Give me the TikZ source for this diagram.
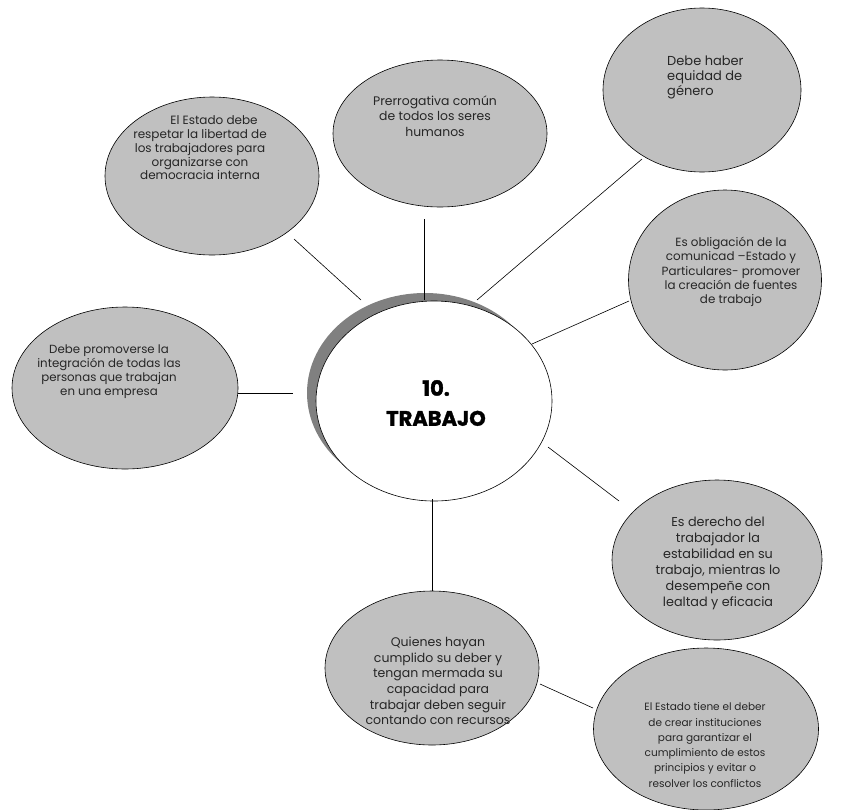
\documentclass[tikz,border=0pt]{standalone}
\usepackage{fontspec}
\setmainfont{Poppins}
\usetikzlibrary{shapes.geometric}
\definecolor{bubgray}{HTML}{C0C0C0}
\definecolor{shadowgray}{HTML}{808080}
\begin{document}
\begin{tikzpicture}[x=1pt,y=-1pt,
  bub/.style={ellipse,draw=black,line width=0.6pt,fill=bubgray,inner sep=0pt},
  txt/.style={align=center,inner sep=0pt,text=black!85},
  conn/.style={draw=black,line width=0.6pt}]
\useasboundingbox (0,0) rectangle (842,809);

% bubbles
\node[bub,minimum width=214pt,minimum height=158pt] (e1) at (212,176) {};
\node[bub,minimum width=214pt,minimum height=147pt] (e2) at (440,133.5) {};
\node[bub,minimum width=198pt,minimum height=164pt] (e3) at (702,90) {};
\node[bub,minimum width=193pt,minimum height=180pt] (e4) at (725,280) {};
\node[bub,minimum width=210pt,minimum height=160pt] (e5) at (717,560) {};
\node[bub,minimum width=214pt,minimum height=154pt] (e6) at (432,668) {};
\node[bub,minimum width=225pt,minimum height=162pt] (e7) at (706,729) {};
\node[bub,minimum width=226pt,minimum height=162pt] (e8) at (125,388) {};

% central ellipse with shadow
\node[ellipse,fill=shadowgray,inner sep=0pt,minimum width=236pt,minimum height=200pt] (sh) at (425,393) {};
\node[ellipse,draw=black,line width=0.6pt,fill=white,inner sep=0pt,minimum width=236pt,minimum height=200pt] (m) at (434,401) {};
\node[align=center,inner sep=0pt,font=\fontsize{21}{30}\selectfont\bfseries\addfontfeature{FakeBold=1.5}] (t0) at (436,403) {10.\\TRABAJO};

% texts
\node[txt,font=\fontsize{12}{13.7}\selectfont] (t1) at (200,148) {\hspace*{28pt}El Estado debe\\respetar la libertad de\\los trabajadores para\\organizarse con\\democracia interna};
\node[txt,font=\fontsize{12.4}{15.5}\selectfont] (t2) at (435,116) {Prerrogativa común\\de todos los seres\\humanos};
\node[txt,align=left,anchor=west,font=\fontsize{13}{15}\selectfont] (t3) at (667,77) {Debe haber\\ equidad de\\género};
\node[txt,font=\fontsize{11.9}{14.2}\selectfont] (t4) at (731,272) {Es obligación de la\\comunicad –Estado y\\Particulares- promover\\la creación de fuentes\\de trabajo};
\node[txt,font=\fontsize{12.8}{16}\selectfont] (t5) at (718,563) {Es derecho del\\trabajador la\\estabilidad en su\\trabajo, mientras lo\\desempeñe con\\lealtad y eficacia};
\node[txt,font=\fontsize{12.5}{15.6}\selectfont] (t6) at (438,681) {Quienes hayan\\cumplido su deber y\\tengan mermada su\\capacidad para\\trabajar deben seguir\\contando con recursos};
\node[txt,font=\fontsize{10.5}{15.3}\selectfont] (t7) at (705,745) {El Estado tiene el deber\\de crear instituciones\\para garantizar el\\cumplimiento de estos\\principios y evitar o\\resolver los conflictos};
\node[txt,font=\fontsize{11.8}{14}\selectfont] (t8) at (109,372) {Debe promoverse la\\integración de todas las\\personas que trabajan\\en una empresa};

% connector end points
\coordinate (a1) at (294,239); \coordinate (b1) at (361,300);
\coordinate (a2) at (424,219); \coordinate (b2) at (424,300);
\coordinate (a3) at (642,159); \coordinate (b3) at (477,300);
\coordinate (a4) at (629,301); \coordinate (b4) at (532,344);
\coordinate (a5) at (619,501); \coordinate (b5) at (548,447);
\coordinate (a6) at (238,393); \coordinate (b6) at (293,393);
\coordinate (a7) at (432,591); \coordinate (b7) at (432,499);
\coordinate (a8) at (593,708); \coordinate (b8) at (540,684);

\draw[conn] (a1) -- (b1);
\draw[conn] (a2) -- (b2);
\draw[conn] (a3) -- (b3);
\draw[conn] (a4) -- (b4);
\draw[conn] (a5) -- (b5);
\draw[conn] (a6) -- (b6);
\draw[conn] (a7) -- (b7);
\draw[conn] (a8) -- (b8);
\end{tikzpicture}
\end{document}
